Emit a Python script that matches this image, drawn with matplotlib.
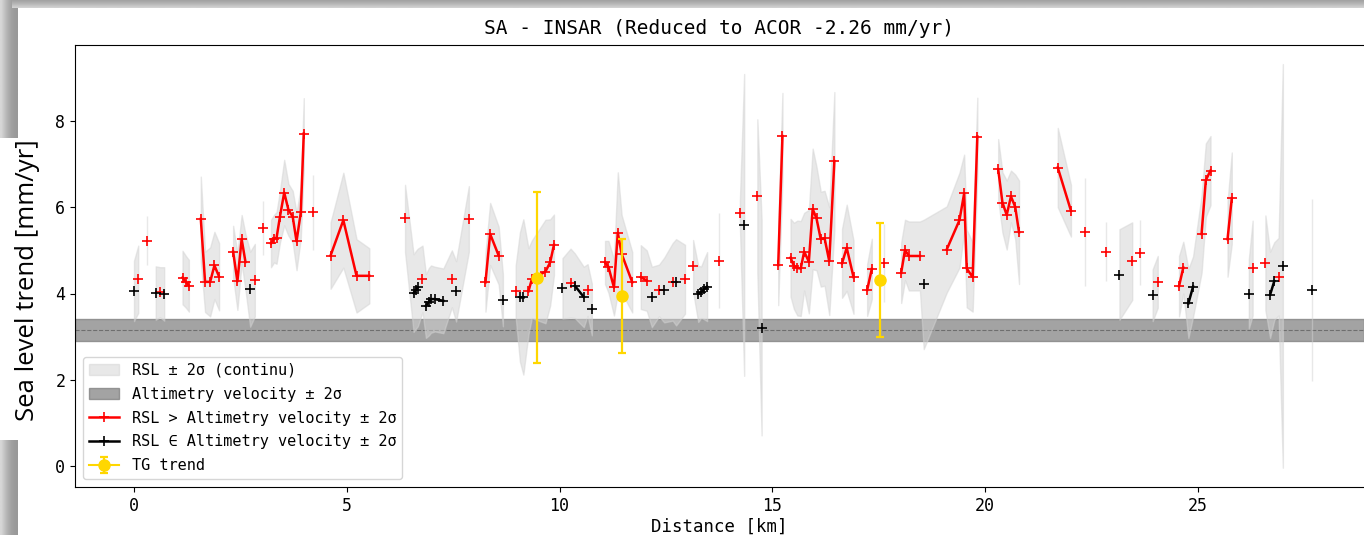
import numpy as np
import matplotlib
matplotlib.use("Agg")
import matplotlib.pyplot as plt
from matplotlib.patches import Rectangle

plt.rcParams['font.family'] = ['DejaVu Sans Mono', 'DejaVu Sans']

# ---------------- data ----------------
# segment id (continuous along-track pieces), distance [km], RSL trend [mm/yr], 2-sigma, above altimetry flag
seg = [0, 0,
       1,
       2, 2, 2,
       3, 3, 3,
       4, 4, 4, 4, 4,
       5, 5, 5, 5, 5, 5,
       6,
       7, 7, 7, 7, 7, 7, 7, 7, 7, 7,
       8,
       9, 9, 9, 9,
       10, 10, 10, 10, 10, 10, 10, 10, 10, 10, 10, 10, 10,
       11, 11, 11, 11,
       12, 12, 12, 12, 12, 12, 12, 12,
       13, 13, 13, 13, 13, 13,
       14, 14, 14, 14, 14, 14,
       15, 15, 15, 15, 15, 15, 15, 15,
       16, 16, 16, 16, 16,
       17,
       18, 18,
       19, 19,
       20, 20,
       21, 21, 21, 21, 21, 21, 21, 21, 21, 21, 21, 21,
       22, 22, 22,
       23, 23,
       24,
       25, 25, 25, 25, 25, 25, 25, 25, 25, 25, 25,
       26, 26, 26, 26, 26, 26,
       27, 27,
       28,
       29,
       30, 30,
       31,
       32, 32,
       33, 33, 33, 33, 33, 33, 33,
       34, 34,
       35, 35,
       36, 36, 36, 36, 36,
       37]

dist = [0.00, 0.10,
        0.30,
        0.51, 0.61, 0.71,
        1.14, 1.22, 1.29,
        1.57, 1.67, 1.79, 1.89, 2.00,
        2.33, 2.43, 2.53, 2.62, 2.73, 2.84,
        3.04,
        3.22, 3.29, 3.35, 3.43, 3.53, 3.63, 3.73, 3.82, 3.92, 3.99,
        4.21,
        4.62, 4.92, 5.23, 5.53,
        6.37, 6.57, 6.62, 6.67, 6.78, 6.86, 6.93, 6.98, 7.07, 7.27, 7.47, 7.57, 7.87,
        8.26, 8.37, 8.57, 8.67,
        8.97, 9.07, 9.15, 9.27, 9.35, 9.67, 9.78, 9.87,
        10.07, 10.26, 10.36, 10.57, 10.66, 10.76,
        11.07, 11.15, 11.28, 11.37, 11.46, 11.71,
        11.91, 12.05, 12.17, 12.34, 12.46, 12.66, 12.74, 12.95,
        13.14, 13.26, 13.33, 13.40, 13.47,
        13.76,
        14.24, 14.34,
        14.65, 14.75,
        15.14, 15.24,
        15.43, 15.51, 15.59, 15.67, 15.75, 15.86, 15.95, 16.04, 16.14, 16.23, 16.34, 16.46,
        16.64, 16.75, 16.91,
        17.23, 17.34,
        17.63,
        18.03, 18.12, 18.21, 18.47, 18.56, 19.10, 19.40, 19.51, 19.57, 19.71, 19.82,
        20.31, 20.41, 20.51, 20.61, 20.71, 20.80,
        21.71, 22.02,
        22.35,
        22.84,
        23.16, 23.46,
        23.65,
        23.94, 24.06,
        24.56, 24.66, 24.78, 24.89, 25.09, 25.19, 25.30,
        25.70, 25.80,
        26.20, 26.29,
        26.59, 26.70, 26.80, 26.90, 27.00,
        27.69]

rsl = [4.06, 4.33,
       5.22,
       4.01, 4.03, 3.99,
       4.37, 4.27, 4.18,
       5.73, 4.27, 4.27, 4.65, 4.39,
       4.97, 4.28, 5.26, 4.73, 4.10, 4.31,
       5.52,
       5.16, 5.27, 5.29, 5.78, 6.34, 5.94, 5.78, 5.21, 5.88, 7.71,
       5.88,
       4.88, 5.70, 4.41, 4.41,
       5.74, 4.01, 4.08, 4.14, 4.34, 3.71, 3.81, 3.87, 3.87, 3.83, 4.34, 4.05, 5.73,
       4.26, 5.38, 4.88, 3.84,
       4.05, 3.92, 3.92, 4.05, 4.33, 4.51, 4.72, 5.13,
       4.12, 4.24, 4.18, 3.92, 4.08, 3.63,
       4.72, 4.62, 4.14, 5.41, 4.92, 4.26,
       4.38, 4.30, 3.92, 4.07, 4.08, 4.27, 4.26, 4.33,
       4.64, 3.99, 4.03, 4.10, 4.16,
       4.76,
       5.87, 5.59,
       6.26, 3.21,
       4.66, 7.65,
       4.83, 4.64, 4.59, 4.58, 4.97, 4.74, 5.96, 5.74, 5.26, 5.28, 4.75, 7.07,
       4.70, 5.06, 4.38,
       4.08, 4.57,
       4.71,
       4.48, 5.01, 4.87, 4.87, 4.21, 5.02, 5.70, 6.32, 4.58, 4.38, 7.64,
       6.88, 6.11, 5.82, 6.25, 6.01, 5.42,
       6.92, 5.92,
       5.43,
       4.97,
       4.44, 4.75,
       4.95,
       3.96, 4.27,
       4.17, 4.60, 3.77, 4.16, 5.38, 6.63, 6.85,
       5.26, 6.21,
       3.99, 4.59,
       4.71, 3.97, 4.29, 4.39, 4.64,
       4.08]

sig2 = [0.70, 0.78,
        0.57,
        0.62, 0.58, 0.62,
        0.62, 0.60, 0.60,
        0.98, 0.70, 0.80, 0.78, 0.78,
        0.60, 0.66, 0.56, 0.65, 0.87, 0.84,
        0.62,
        0.55, 0.55, 0.60, 0.60, 0.76, 0.60, 0.60, 0.67, 0.60, 0.82,
        0.87,
        0.77, 1.10, 0.85, 0.64,
        0.78, 0.90, 0.90, 0.90, 0.77, 0.74, 0.78, 0.78, 0.75, 0.75, 0.66, 0.70, 0.76,
        0.68, 0.72, 0.67, 0.60,
        0.60, 1.50, 1.80, 1.00, 0.90, 1.20, 1.00, 0.70,
        0.70, 0.80, 0.75, 0.70, 0.60, 0.60,
        0.50, 0.60, 0.65, 1.40, 0.90, 0.70,
        0.74, 0.70, 0.70, 0.60, 0.75, 0.90, 1.00, 0.80,
        0.60, 0.65, 0.60, 0.70, 0.80,
        1.10,
        0.30, 3.50,
        1.78, 2.50,
        0.93, 1.00,
        0.90, 1.00, 1.10, 1.10, 0.90, 1.20, 1.40, 1.20, 1.10, 1.10, 1.25, 1.60,
        0.80, 1.00, 0.85,
        0.60, 0.70,
        0.90,
        0.70, 0.70, 0.80, 0.80, 1.50, 1.00, 1.10, 0.90, 0.90, 0.80, 0.90,
        0.70, 0.70, 0.80, 0.60, 0.75, 1.20,
        0.92, 0.60,
        1.25,
        0.68,
        1.05, 0.90,
        0.76,
        0.60, 0.60,
        0.70, 0.60, 0.80, 0.70, 0.90, 0.85, 0.80,
        0.87, 1.06,
        0.80, 1.10,
        1.10, 1.00, 0.90, 0.90, 4.68,
        2.12]

above = [0, 1,
         1,
         0, 1, 0,
         1, 1, 1,
         1, 1, 1, 1, 1,
         1, 1, 1, 1, 0, 1,
         1,
         1, 1, 1, 1, 1, 1, 1, 1, 1, 1,
         1,
         1, 1, 1, 1,
         1, 0, 0, 0, 1, 0, 0, 0, 0, 0, 1, 0, 1,
         1, 1, 1, 0,
         1, 0, 0, 1, 1, 1, 1, 1,
         0, 1, 0, 0, 1, 0,
         1, 1, 1, 1, 1, 1,
         1, 1, 0, 1, 0, 1, 0, 1,
         1, 0, 0, 0, 0,
         1,
         1, 0,
         1, 0,
         1, 1,
         1, 1, 1, 1, 1, 1, 1, 1, 1, 1, 1, 1,
         1, 1, 1,
         1, 1,
         1,
         1, 1, 1, 1, 0, 1, 1, 1, 1, 1, 1,
         1, 1, 1, 1, 1, 1,
         1, 1,
         1,
         1,
         0, 1,
         1,
         0, 1,
         1, 1, 0, 0, 1, 1, 1,
         1, 1,
         0, 1,
         1, 0, 0, 1, 0,
         0]

alt_vel = 3.15
alt_err = 0.26

tg_dist = [9.48, 11.48, 17.53]
tg_trend = [4.37, 3.94, 4.31]
tg_err = [1.99, 1.32, 1.33]

title = "SA - INSAR (Reduced to ACOR -2.26 mm/yr)"

# ---------------- figure ----------------
W, H = 1364, 535
fig = plt.figure(figsize=(W / 100, H / 100), dpi=100)
fig.patch.set_facecolor('white')

# screenshot frame shading
def strip(x0, y0, w, h, vals, horizontal=True):
    a = fig.add_axes([x0 / W, 1 - (y0 + h) / H, w / W, h / H], zorder=-5)
    arr = np.array(vals)[None, :] if horizontal else np.array(vals)[:, None]
    a.imshow(arr, cmap='gray', vmin=0, vmax=1, aspect='auto', interpolation='bilinear')
    a.set_axis_off()

strip(0, 0, 18, H, [0.84, 0.78, 0.72, 0.67, 0.63, 0.61, 0.60])
strip(12, 0, W - 12, 8, [0.64, 0.67, 0.70, 0.74, 0.78, 0.82], horizontal=False)

ax = fig.add_axes([75 / W, (H - 487) / H, (W - 75) / W, (487 - 45) / H])

d = np.array(dist); r = np.array(rsl); e = np.array(sig2)
ab = np.array(above); sg = np.array(seg)

ax.axhspan(alt_vel - alt_err, alt_vel + alt_err, facecolor='grey', alpha=0.72,
           edgecolor='#7a7a7a', lw=1.0, zorder=1, label='Altimetry velocity ± 2σ')
ax.axhline(alt_vel, color='#6e6e6e', ls='--', lw=0.8, zorder=1.5)

first = True
for s in np.unique(sg):
    m = sg == s
    x = d[m]; y = r[m]; ee = e[m]; a = ab[m]
    ax.fill_between(x, y - ee, y + ee, color='lightgray', alpha=0.5, lw=1.0, zorder=2,
                    label='RSL ± 2σ (continu)' if first else None)
    ax.plot(x, np.where(a == 1, y, np.nan), '-+', color='red', lw=1.8, ms=7, mew=1.2,
            zorder=4, label='RSL > Altimetry velocity ± 2σ' if first else None)
    ax.plot(x, np.where(a == 0, y, np.nan), '-+', color='black', lw=1.8, ms=7, mew=1.2,
            zorder=4, label='RSL ∈ Altimetry velocity ± 2σ' if first else None)
    first = False

for i in range(len(tg_dist)):
    ax.errorbar([tg_dist[i]], [tg_trend[i]], yerr=[tg_err[i]], fmt='-o', color='#FFD700', ms=8,
                elinewidth=1.6, capsize=3, capthick=1.6, zorder=5,
                label='TG trend' if i == 0 else None)

ax.set_xlim((75 - 134) / 42.55, (1364 - 134) / 42.55)
ax.set_ylim((466 - 487) / 43.125, (466 - 45) / 43.125)
ax.set_xticks([0, 5, 10, 15, 20, 25])
ax.set_yticks([0, 2, 4, 6, 8])
ax.tick_params(labelsize=12)
ax.spines['right'].set_visible(False)
ax.set_xlabel('Distance [km]', fontsize=12.5, labelpad=2)
ax.set_title(title, fontsize=14, pad=8)

h, l = ax.get_legend_handles_labels()
order = ['RSL ± 2σ (continu)', 'Altimetry velocity ± 2σ', 'RSL > Altimetry velocity ± 2σ',
         'RSL ∈ Altimetry velocity ± 2σ', 'TG trend']
hd = dict(zip(l, h))
ax.legend([hd[k] for k in order], order, loc='lower left', fontsize=11.0, labelspacing=0.58)

# y label drawn over the frame with a white box
fig.patches.append(Rectangle((0, 1 - 440 / H), 46 / W, (440 - 138) / H, transform=fig.transFigure,
                             facecolor='white', edgecolor='none', zorder=-1))
fig.text(28 / W, 1 - 280 / H, 'Sea level trend [mm/yr]', rotation=90, ha='center', va='center',
         fontsize=18.5, family='Open Sans')

fig.savefig('out.png', dpi=100)
